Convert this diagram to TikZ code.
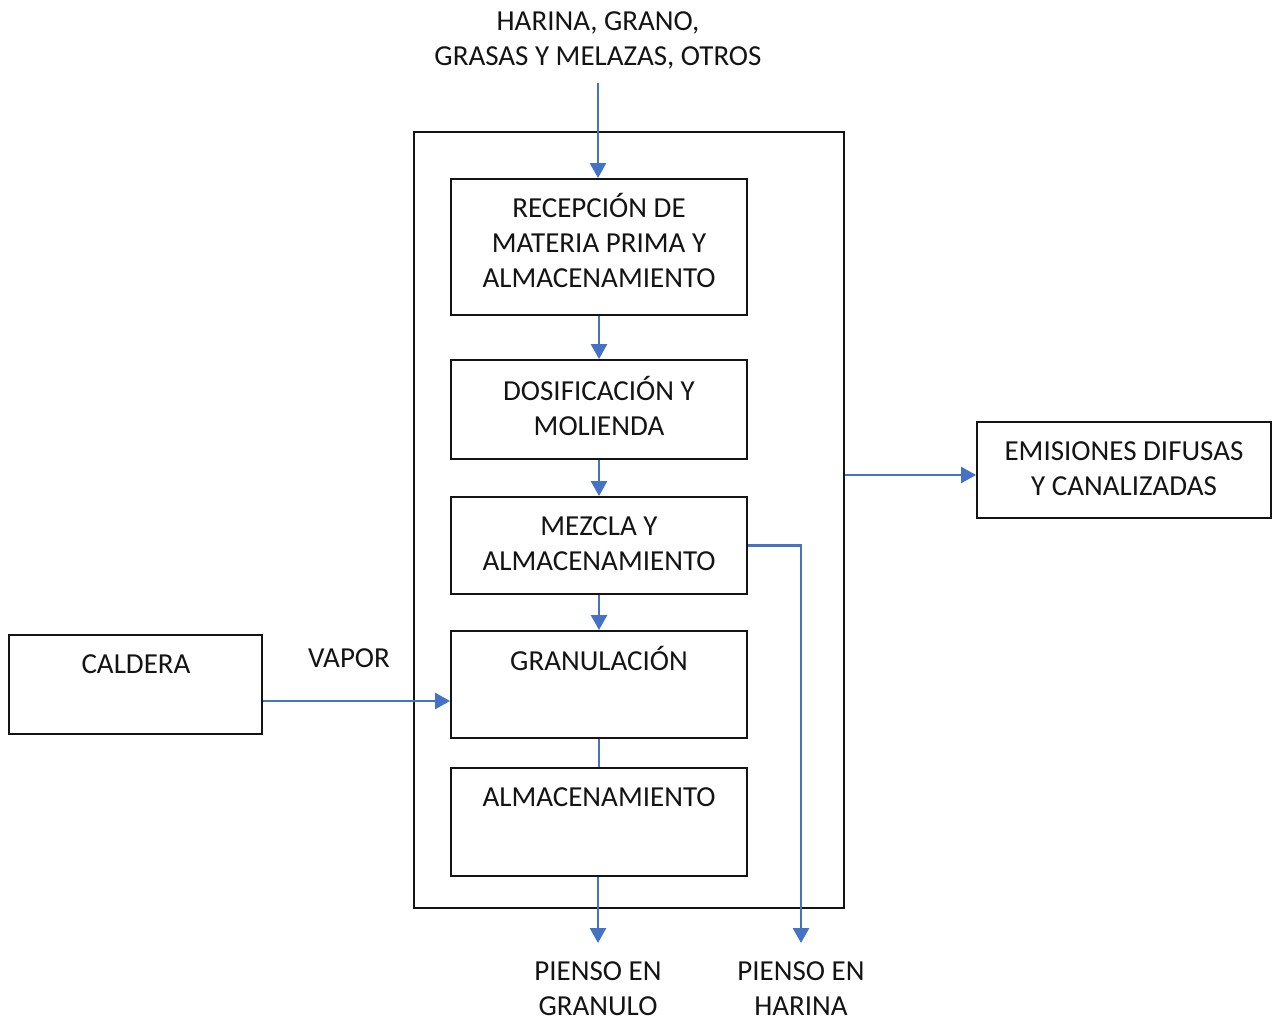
\documentclass[tikz,border=0pt]{standalone}
\usepackage{fontspec}
\setmainfont{Carlito}
\usetikzlibrary{arrows.meta}
\definecolor{flow}{HTML}{4472C4}
\definecolor{ink}{HTML}{141414}
\begin{document}
\begin{tikzpicture}[x=1pt,y=-1pt,
  box/.style={draw=ink, line width=1.9pt, inner sep=0pt, align=center,
    font=\fontsize{29}{35}\selectfont, text=ink},
  txt/.style={align=center, font=\fontsize{29}{35}\selectfont, inner sep=0pt, text=ink},
  flowarrow/.style={draw=flow, line width=2.7pt, -{Triangle[length=15pt,width=16pt]}},
  flowline/.style={draw=flow, line width=2.7pt}]
\useasboundingbox (0,0) rectangle (1274,1021);
% outer frame
\node[box, minimum width=430pt, minimum height=776pt] (outer) at (629,520) {};
% process boxes
\node[box, minimum width=296pt, minimum height=136pt] (b1) at (599,247) {};
\node[txt] (t1) at (599,240) {RECEPCIÓN DE\\MATERIA PRIMA Y\\ALMACENAMIENTO};
\node[box, minimum width=296pt, minimum height=99pt] (b2) at (599,409.5) {};
\node[txt] (t2) at (599,406) {DOSIFICACIÓN Y\\MOLIENDA};
\node[box, minimum width=296pt, minimum height=97pt] (b3) at (599,545.5) {};
\node[txt] (t3) at (599,544) {MEZCLA Y\\ALMACENAMIENTO};
\node[box, minimum width=296pt, minimum height=107pt] (b4) at (599,684.5) {};
\node[txt, anchor=base] (t4) at (599,670.5) {GRANULACIÓN};
\node[box, minimum width=296pt, minimum height=108pt] (b5) at (599,822) {};
\node[txt, anchor=base] (t5) at (599,806.5) {ALMACENAMIENTO};
\node[box, minimum width=253pt, minimum height=99pt] (cal) at (135.5,684.5) {};
\node[txt, anchor=base] (tcal) at (136,673.5) {CALDERA};
\node[box, minimum width=294pt, minimum height=96pt] (emis) at (1124,470) {};
\node[txt] (temis) at (1124,469) {EMISIONES DIFUSAS\\Y CANALIZADAS};
% free texts
\node[txt] (top) at (598,40.5) {HARINA, GRANO,\\GRASAS Y MELAZAS, OTROS};
\node[txt, anchor=base] (vapor) at (349,667.5) {VAPOR};
\node[txt] (pg) at (598,988.5) {PIENSO EN\\GRANULO};
\node[txt] (ph) at (801,988.5) {PIENSO EN\\HARINA};
% coordinates
\coordinate (intop) at (598,83);
\coordinate (outG) at (598,943);
\coordinate (outH) at (801,943);
\coordinate (vap) at (0,701);
\coordinate (em) at (0,475);
% connectors
\draw[flowarrow] (intop) -- (intop |- b1.north);
\draw[flowarrow] (b1.south) -- (b2.north);
\draw[flowarrow] (b2.south) -- (b3.north);
\draw[flowarrow] (b3.south) -- (b4.north);
\draw[flowline] (b4.south) -- (b5.north);
\draw[flowarrow] (outG |- b5.south) -- (outG);
\draw[flowarrow] (b3.east) -| (outH);
\draw[flowarrow] (cal.east |- vap) -- (b4.west |- vap);
\draw[flowarrow] (outer.east |- em) -- (emis.west |- em);
\end{tikzpicture}
\end{document}
